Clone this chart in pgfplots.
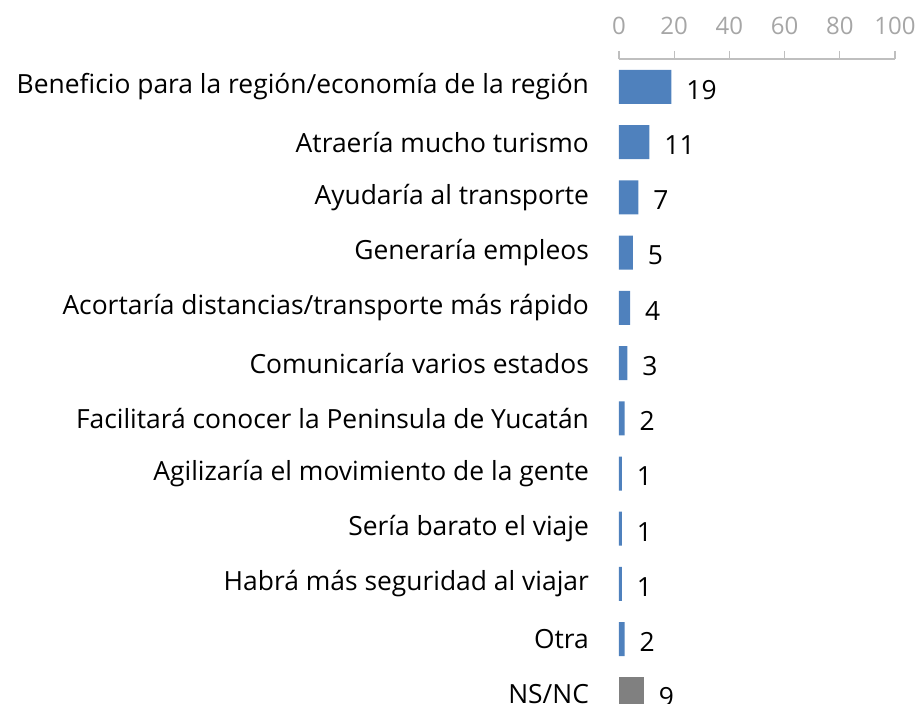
\documentclass[border=0pt]{standalone}
\usepackage{pgfplots}
\pgfplotsset{compat=1.18}
\usepackage{fontspec}
\setmainfont{Open Sans}
\definecolor{barblue}{HTML}{4F81BD}
\definecolor{bargray}{HTML}{808080}
\definecolor{axgray}{HTML}{BFBFBF}
\definecolor{tickgray}{HTML}{A6A6A6}
\begin{document}
\begin{tikzpicture}
\begin{axis}[
  name=ax,
  at={(0,0)}, anchor=north west,
  width=138pt, height=331.5pt, scale only axis,
  xbar, bar width=17pt, bar shift=0pt,
  xmin=0, xmax=100,
  ymin=-0.507, ymax=11.5,
  y dir=reverse,
  axis x line*=top,
  axis y line*=left,
  y axis line style={draw=none},
  x axis line style={axgray, line width=0.6pt},
  xtick={0,20,40,60,80,100},
  tick align=outside,
  major tick length=4pt,
  xtick style={axgray, line width=0.6pt},
  ytick={0,1,2,3,4,5,6,7,8,9,10,11},
  ytick style={draw=none},
  yticklabels={Beneficio para la región/economía de la región,Atraería mucho turismo,Ayudaría al transporte,Generaría empleos,Acortaría distancias/transporte más rápido,Comunicaría varios estados,Facilitará conocer la Peninsula de Yucatán,Agilizaría el movimiento de la gente,Sería barato el viaje,Habrá más seguridad al viajar,Otra,NS/NC},
  /pgf/number format/assume math mode=true,
  xticklabel style={tickgray, yshift=4.5pt, font=\fontsize{12}{14}\selectfont},
  yticklabel style={black, xshift=-7.5pt, font=\fontsize{13.2}{15}\selectfont},
  nodes near coords,
  every node near coord/.append style={black, font=\fontsize{13.2}{15}\selectfont, xshift=4pt, yshift=-1.5pt},
  clip=false,
]
\addplot[fill=barblue, draw=none] coordinates {(19,0) (11,1) (7,2) (5,3) (4,4) (3,5) (2,6) (1,7) (1,8) (1,9) (2,10)};
\addplot[fill=bargray, draw=none] coordinates {(9,11)};
\end{axis}
\pgfresetboundingbox
\useasboundingbox ([xshift=-309.5pt,yshift=29.5pt]ax.north west) rectangle ++(458pt,-352pt);
\end{tikzpicture}
\end{document}
